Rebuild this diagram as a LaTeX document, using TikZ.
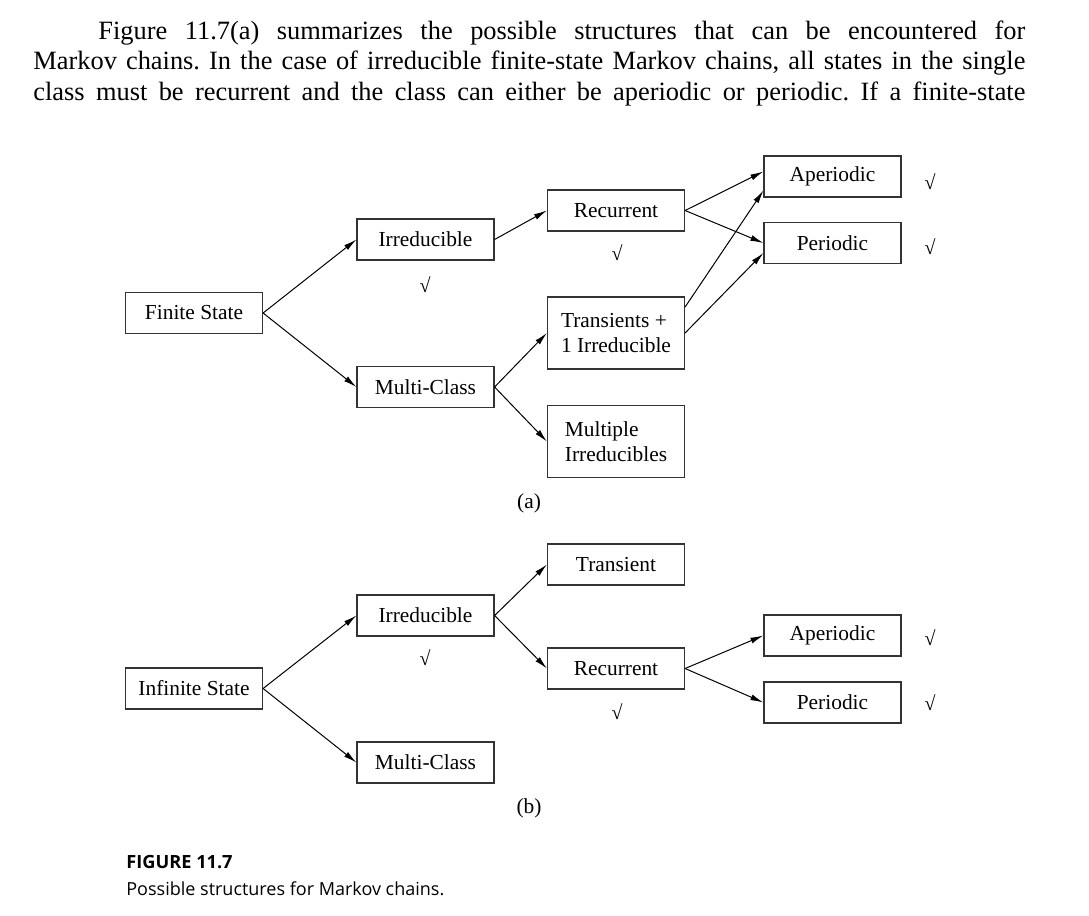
\documentclass[tikz,border=0pt]{standalone}
\usepackage{fontspec}
\setmainfont{Liberation Serif}
\newfontfamily\capfont{Open Sans}
\usepackage{tikz}
\usetikzlibrary{arrows.meta}
\frenchspacing

\begin{document}
\begin{tikzpicture}[x=0.5pt, y=-0.5pt,
  box/.style={draw=black!80, line width=0.6pt, minimum width=68.5pt, minimum height=20.5pt, inner sep=0pt, font=\fontsize{10.7}{12.8}\selectfont},
  tallbox/.style={box, minimum height=36pt, align=left},
  chk/.style={inner sep=0pt, font=\bfseries\fontsize{10}{10}\selectfont},
  arr/.style={-{Latex[length=6.5pt,width=3pt]}, line width=0.5pt}]
  \useasboundingbox (0,0) rectangle (1089,916);

  % running text above the figure
  \node[anchor=base west, inner sep=0pt, font=\fontsize{13.2}{15.25}\selectfont] (para) at (33,39)
    {\begin{minipage}[t]{496pt}\parfillskip=0pt
     \hspace*{32.5pt}Figure 11.7(a) summarizes the possible structures that can be encountered for\linebreak
     Markov chains. In the case of irreducible finite-state Markov chains, all states in the single\linebreak
     class must be recurrent and the class can either be aperiodic or periodic. If a finite-state\par
     \end{minipage}};

  % (a) finite state
  \node[box] (fin) at (194,313) {Finite State};
  \node[box] (irrA) at (425.5,239.5) {Irreducible};
  \node[box] (multA) at (425.5,387) {Multi-Class};
  \node[box] (recA) at (616,210.5) {Recurrent};
  \node[tallbox] (trans) at (616,333) {Transients +\\1 Irreducible};
  \node[tallbox] (multirr) at (616,441.5) {Multiple\\Irreducibles};
  \node[box] (aperA) at (832.5,176.5) {Aperiodic};
  \node[box] (perA) at (832.5,243) {Periodic};
  \node[chk] (c1) at (425,285) {√};
  \node[chk] (c2) at (617,253) {√};
  \node[chk] (c3) at (930,182) {√};
  \node[chk] (c4) at (930,247) {√};
  \node[box, draw=none] (la) at (529,503) {(a)};

  \draw[arr] (fin.east) -- (irrA.west);
  \draw[arr] (fin.east) -- (multA.west);
  \draw[arr] (irrA.east) -- (recA.west);
  \draw[arr] (multA.east) -- (trans.west);
  \draw[arr] (multA.east) -- (multirr.west);
  \draw[arr] (recA.east) -- ([yshift=2.5pt]aperA.west);
  \draw[arr] (recA.east) -- (perA.west);
  \draw[arr] ([yshift=13pt]trans.east) -- ([yshift=3.5pt]aperA.south west);
  \draw[arr] (trans.east) -- ([yshift=-5pt]perA.west);

  % (b) infinite state
  \node[box] (inf) at (194,688.5) {Infinite State};
  \node[box] (irrB) at (425.5,615.5) {Irreducible};
  \node[box] (multB) at (425.5,762.5) {Multi-Class};
  \node[box] (tranB) at (616,564.5) {Transient};
  \node[box] (recB) at (616,668.5) {Recurrent};
  \node[box] (aperB) at (832.5,635.5) {Aperiodic};
  \node[box] (perB) at (832.5,702.5) {Periodic};
  \node[chk] (c5) at (425,658) {√};
  \node[chk] (c6) at (617,712) {√};
  \node[chk] (c7) at (930,638) {√};
  \node[chk] (c8) at (930,703) {√};
  \node[box, draw=none] (lb) at (529,808) {(b)};

  \draw[arr] (inf.east) -- (irrB.west);
  \draw[arr] (inf.east) -- (multB.west);
  \draw[arr] (irrB.east) -- (tranB.west);
  \draw[arr] (irrB.east) -- (recB.west);
  \draw[arr] (recB.east) -- (aperB.west);
  \draw[arr] (recB.east) -- (perB.west);

  % caption
  \node[anchor=base west, inner sep=0pt, font=\capfont\bfseries\fontsize{9.1}{11}\selectfont] (fig) at (126,868) {FIGURE 11.7};
  \node[anchor=base west, inner sep=0pt, font=\capfont\fontsize{9}{11}\selectfont] (cap) at (126,895) {Possible structures for Markov chains.};
\end{tikzpicture}
\end{document}
